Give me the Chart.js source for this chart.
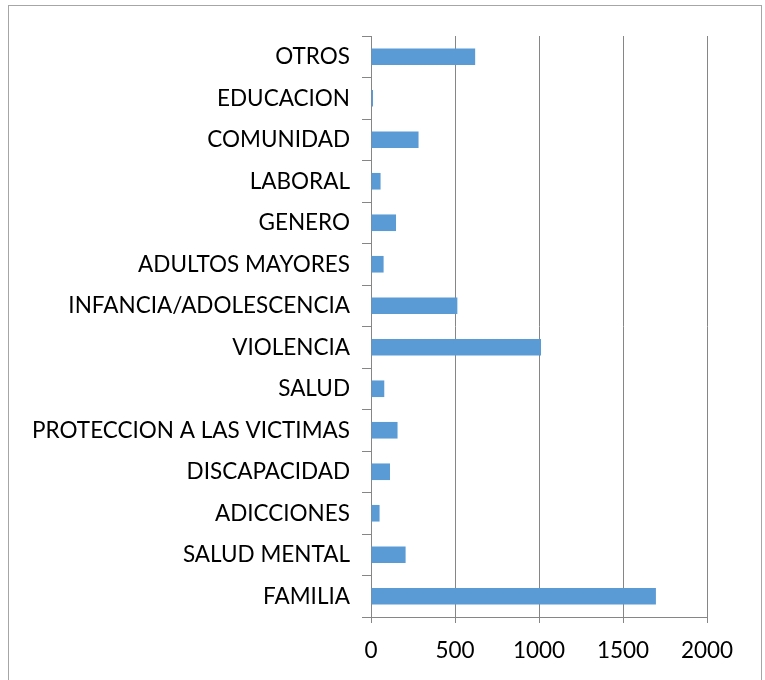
<!DOCTYPE html>
<html lang="es">
<head>
  <meta charset="UTF-8">
  <title>Casos por área</title>
  <script src="https://cdn.jsdelivr.net/npm/chart.js"></script>
  <style>
    html, body {
      margin: 0;
      padding: 0;
      background: #fff;
    }
    #frame {
      position: absolute;
      left: 8px;
      top: 5px;
      width: 752px;
      height: 674px;
      border: 1px solid #a6a6a6;
    }
    #wrap {
      position: absolute;
      left: 0;
      top: 0;
      width: 765px;
      height: 680px;
    }
  </style>
</head>
<body>
  <div id="frame"></div>
  <div id="wrap"><canvas id="chart"></canvas></div>

  <script>
    // categorias de arriba hacia abajo
    const categories = [
      'OTROS', 'EDUCACION', 'COMUNIDAD', 'LABORAL', 'GENERO', 'ADULTOS MAYORES',
      'INFANCIA/ADOLESCENCIA', 'VIOLENCIA', 'SALUD', 'PROTECCION A LAS VICTIMAS',
      'DISCAPACIDAD', 'ADICCIONES', 'SALUD MENTAL', 'FAMILIA'
    ];
    const values = [620, 6, 283, 57, 149, 75, 514, 1012, 79, 158, 113, 51, 206, 1696];
    const xTicks = [0, 500, 1000, 1500, 2000];

    const font = { family: 'Lato, "Open Sans", sans-serif', size: 22.5 };
    const gray = '#868686';

    new Chart(document.getElementById('chart'), {
      type: 'bar',
      data: {
        labels: categories,
        datasets: [{
          data: values,
          backgroundColor: '#5b9bd5',
          barPercentage: 0.4,
          categoryPercentage: 1,
          minBarLength: 2
        }]
      },
      options: {
        indexAxis: 'y',
        responsive: true,
        maintainAspectRatio: false,
        animation: false,
        layout: { padding: { top: 36, right: 58, left: 0, bottom: 0 } },
        plugins: { legend: { display: false }, tooltip: { enabled: false } },
        scales: {
          x: {
            min: xTicks[0],
            max: xTicks[xTicks.length - 1],
            afterBuildTicks: s => { s.ticks = xTicks.map(v => ({ value: v })); },
            afterFit: s => { s.height = 63; },
            grid: { color: gray, lineWidth: 1, tickLength: 6 },
            border: { color: gray },
            ticks: {
              color: '#000',
              font: font,
              padding: 14,
              maxRotation: 0,
              callback: v => String(v)
            }
          },
          y: {
            afterFit: s => { s.width = 371; },
            grid: { drawOnChartArea: false, color: gray, tickLength: 9, offset: true },
            border: { color: gray },
            ticks: { color: '#000', font: font, padding: 12, autoSkip: false }
          }
        }
      }
    });
  </script>
</body>
</html>
